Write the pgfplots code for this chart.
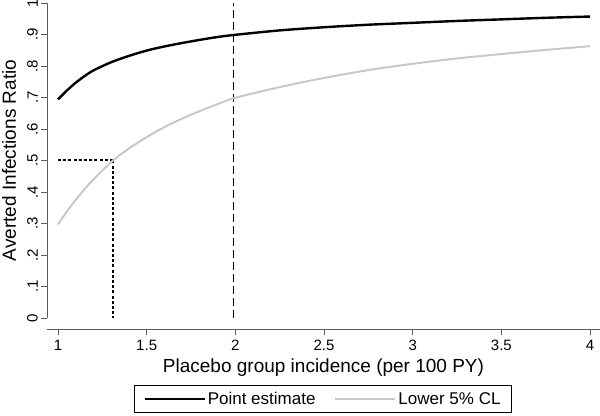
\documentclass[border=0pt]{standalone}
\usepackage{fontspec}
\setmainfont{Liberation Sans}
\usepackage{pgfplots}
\pgfplotsset{compat=1.18}
\definecolor{lgray}{RGB}{200,200,200}
\definecolor{axgray}{RGB}{90,90,90}
\begin{document}
\begin{tikzpicture}
\begin{axis}[
  scale only axis, width=553pt, height=326pt,
  xmin=0.938, xmax=4.056, ymin=-0.035, ymax=1,
  clip=false,
  axis line style={draw=none},
  axis x line*=bottom, axis y line*=left,
  tick align=outside, major tick length=6pt,
  tick style={axgray, line width=0.9pt},
  xtick={1,1.5,2,2.5,3,3.5,4}, xticklabels={1,1.5,2,2.5,3,3.5,4},
  ytick={0,0.1,0.2,0.3,0.4,0.5,0.6,0.7,0.8,0.9,1},
  yticklabels={0,.1,.2,.3,.4,.5,.6,.7,.8,.9,1},
  xticklabel style={font=\fontsize{15}{17}\selectfont, inner sep=2pt, yshift=-3pt},
  yticklabel style={font=\fontsize{15}{17}\selectfont, rotate=90, anchor=south, inner sep=3pt},
  xlabel={Placebo group incidence (per 100 PY)},
  xlabel style={font=\fontsize{19}{22}\selectfont, at={(axis description cs:0.5,-0.117)}, anchor=center},
  ylabel={Averted Infections Ratio},
  ylabel style={font=\fontsize{19}{22}\selectfont, at={(axis description cs:-0.0687,0.517)}, anchor=center},
  legend columns=2,
  legend image code/.code={\draw[#1] (0pt,0pt) -- (60pt,0pt);},
  legend style={at={(axis description cs:0.499,-0.2147)}, anchor=center,
    draw=black, line width=0.8pt, font=\fontsize{17}{20}\selectfont,
    inner xsep=9pt, inner ysep=4.5pt,
    /tikz/every even column/.append style={column sep=17pt}},
]
\draw[axgray, line width=0.9pt] (axis cs:0.938,-0.035) -- (axis cs:4.056,-0.035);
\draw[axgray, line width=0.9pt] (axis cs:0.938,0) -- (axis cs:0.938,1);

\addplot[forget plot, black, line width=1.2pt, dash pattern=on 8pt off 4pt] coordinates {(1.99,0) (1.99,1)};
\addplot[forget plot, black, line width=2pt, dash pattern=on 3pt off 2.2pt] coordinates {(1,0.5) (1.31,0.5)};
\addplot[forget plot, black, line width=2pt, dash pattern=on 3pt off 2.2pt] coordinates {(1.31,0.5) (1.31,0)};

\addplot[black, line width=2.4pt, smooth] coordinates {
(1.0,0.694) (1.05,0.722) (1.1,0.747) (1.15,0.768) (1.2,0.786) (1.3,0.812) (1.4,0.832) (1.5,0.849)
(1.6,0.862) (1.7,0.873) (1.8,0.883) (1.9,0.892) (2.0,0.899) (2.25,0.913)
(2.5,0.923) (2.75,0.931) (3.0,0.937) (3.25,0.943) (3.5,0.948) (3.75,0.953) (4.0,0.957)};
\addlegendentry{Point estimate}
\addplot[lgray, line width=2pt, smooth] coordinates {
(1.0,0.297) (1.05,0.338) (1.1,0.375) (1.15,0.409) (1.2,0.440) (1.3,0.495) (1.4,0.538) (1.5,0.574)
(1.6,0.606) (1.7,0.633) (1.8,0.657) (1.9,0.679) (2.0,0.699) (2.25,0.733)
(2.5,0.762) (2.75,0.787) (3.0,0.807) (3.25,0.824) (3.5,0.838) (3.75,0.851) (4.0,0.863)};
\addlegendentry{Lower 5\% CL}
\end{axis}
\pgfresetboundingbox
\path ([shift={(-47pt,-87pt)}]current axis.south west) rectangle ([shift={(0pt,3pt)}]current axis.north east);
\end{tikzpicture}
\end{document}
